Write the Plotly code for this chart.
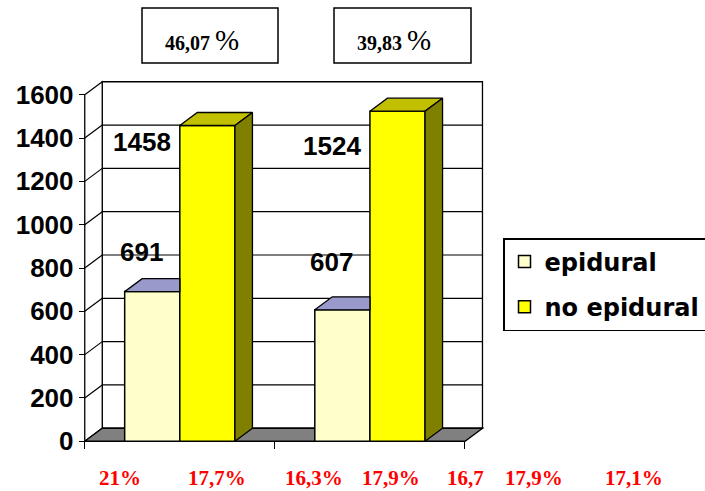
import plotly.graph_objects as go

# ---------------- data ----------------
categories = [0, 1]
series_names = ["epidural", "no epidural"]
epidural = [691, 607]
no_epidural = [1458, 1524]
y_ticks = [0, 200, 400, 600, 800, 1000, 1200, 1400, 1600]
box_labels = ["46,07", "39,83"]
bottom_labels = ["21%", "17,7%", "16,3%", "17,9%", "16,7", "17,9%", "17,1%"]

# ---------------- layout constants ----------------
W, H = 705, 491
ML, MR, MT, MB = 80, 221, 80, 48
XR = [-0.525, 1.6]
YR = [-8, 1668]
DX, DY = 0.092, 60          # 3D depth offset (x units, y units)
BW = 0.29                   # bar width
YMAX = 1600

C_EPI, C_EPI_TOP = "#FFFFCC", "#9999CC"
C_NO, C_NO_TOP, C_NO_SIDE = "#FFFF00", "#C0C000", "#808000"
C_FLOOR = "#808080"


def px_x(p):
    return (p - ML) / (W - ML - MR)


def px_y(p):
    return (H - MB - p) / (H - MT - MB)


fig = go.Figure()

# ---------------- walls / floor (shapes below traces) ----------------
shapes = []
x_l, x_r = -0.5, 1.5
shapes.append(dict(type="rect", xref="x", yref="y", layer="below",
                   x0=x_l + DX, x1=x_r + DX, y0=DY, y1=YMAX + DY,
                   fillcolor="white", line=dict(color="black", width=1.3)))
shapes.append(dict(type="path", xref="x", yref="y", layer="below",
                   path=f"M {x_l},0 L {x_l},{YMAX} L {x_l+DX},{YMAX+DY} L {x_l+DX},{DY} Z",
                   fillcolor="white", line=dict(color="black", width=1.3)))
for v in y_ticks[1:-1]:
    shapes.append(dict(type="line", xref="x", yref="y", layer="below",
                       x0=x_l + DX, x1=x_r + DX, y0=v + DY, y1=v + DY,
                       line=dict(color="black", width=1.2)))
    shapes.append(dict(type="line", xref="x", yref="y", layer="below",
                       x0=x_l, x1=x_l + DX, y0=v, y1=v + DY,
                       line=dict(color="black", width=1.2)))
shapes.append(dict(type="path", xref="x", yref="y", layer="below",
                   path=f"M {x_l},0 L {x_r},0 L {x_r+DX},{DY} L {x_l+DX},{DY} Z",
                   fillcolor=C_FLOOR, line=dict(color="black", width=1.3)))

# boxes at the top (paper coordinates)
for (a, b) in [(142, 278), (334, 471)]:
    shapes.append(dict(type="rect", xref="paper", yref="paper",
                       x0=px_x(a), x1=px_x(b), y0=px_y(63), y1=px_y(8),
                       line=dict(color="black", width=1.5), fillcolor="white"))

# ---------------- bars (front faces) ----------------
fig.add_trace(go.Bar(x=categories, y=epidural, name=series_names[0],
                     width=BW, offset=-BW,
                     marker=dict(color=C_EPI, line=dict(color="black", width=1.5)),
                     legendgroup="a"))
fig.add_trace(go.Bar(x=categories, y=no_epidural, name=series_names[1],
                     width=BW, offset=0,
                     marker=dict(color=C_NO, line=dict(color="black", width=1.5)),
                     legendgroup="b"))

# 3D tops / sides
for i, c in enumerate(categories):
    v = epidural[i]
    x0, x1 = c - BW, c
    fig.add_trace(go.Scatter(x=[x0, x1, x1, x0 + DX, x0], y=[v, v, v + DY, v + DY, v],
                             fill="toself", fillcolor=C_EPI_TOP, mode="lines",
                             line=dict(color="black", width=1.3),
                             showlegend=False, hoverinfo="skip"))
    v = no_epidural[i]
    x0, x1 = c, c + BW
    fig.add_trace(go.Scatter(x=[x0, x1, x1 + DX, x0 + DX, x0], y=[v, v, v + DY, v + DY, v],
                             fill="toself", fillcolor=C_NO_TOP, mode="lines",
                             line=dict(color="black", width=1.3),
                             showlegend=False, hoverinfo="skip"))
    fig.add_trace(go.Scatter(x=[x1, x1 + DX, x1 + DX, x1, x1], y=[0, DY, v + DY, v, 0],
                             fill="toself", fillcolor=C_NO_SIDE, mode="lines",
                             line=dict(color="black", width=1.3),
                             showlegend=False, hoverinfo="skip"))

# ---------------- annotations ----------------
ann = []
lab_font = dict(family="Liberation Sans, Arial", size=26, color="black", weight="bold")
label_shift_epi = [40, 48]
label_shift_no = [-17, -35]
for i, c in enumerate(categories):
    ann.append(dict(x=c - 0.2, y=epidural[i], xref="x", yref="y", text=str(epidural[i]),
                    showarrow=False, yshift=label_shift_epi[i], font=lab_font))
    ann.append(dict(x=c - 0.2, y=no_epidural[i], xref="x", yref="y", text=str(no_epidural[i]),
                    showarrow=False, yshift=label_shift_no[i], font=lab_font))

box_cx = [202, 393.5]
for t, cx in zip(box_labels, box_cx):
    ann.append(dict(x=px_x(cx), y=px_y(40), xref="paper", yref="paper",
                    text=f"<b>{t}</b> <span style='font-size:29px'>%</span>",
                    showarrow=False, xanchor="center", yanchor="middle",
                    font=dict(family="Liberation Serif, Times New Roman", size=20, color="black")))

bottom_x = [120, 217, 314, 391, 465, 534, 634]
for t, cx in zip(bottom_labels, bottom_x):
    ann.append(dict(x=px_x(cx), y=px_y(478), xref="paper", yref="paper", text=t,
                    showarrow=False, xanchor="center", yanchor="middle",
                    font=dict(family="Liberation Serif, Times New Roman", size=21,
                              color="#FF0000", weight="bold")))

fig.update_layout(
    width=W, height=H, autosize=False,
    margin=dict(l=ML, r=MR, t=MT, b=MB, pad=0, autoexpand=False),
    paper_bgcolor="white", plot_bgcolor="rgba(0,0,0,0)",
    barmode="overlay",
    shapes=shapes, annotations=ann,
    showlegend=True,
    legend=dict(x=px_x(503), y=px_y(238), xanchor="left", yanchor="top",
                bordercolor="black", borderwidth=1.5, bgcolor="white",
                font=dict(family="DejaVu Sans", size=24, color="black", weight="bold"),
                tracegroupgap=11, traceorder="grouped"),
    xaxis=dict(range=XR, showgrid=False, zeroline=False, showline=False,
               tickvals=[-0.5, 0.5, 1.5], ticks="outside", ticklen=7, tickwidth=1.3,
               tickcolor="black", showticklabels=False,
               anchor="free", position=(0 - YR[0]) / (YR[1] - YR[0])),
    yaxis=dict(range=YR, showgrid=False, zeroline=False, showline=False,
               tickvals=y_ticks, ticktext=[str(t) for t in y_ticks],
               ticks="outside", ticklen=6, tickwidth=1.3, tickcolor="black",
               tickfont=lab_font,
               anchor="free", position=(-0.5 - XR[0]) / (XR[1] - XR[0])),
)

fig.write_html("out.html")
